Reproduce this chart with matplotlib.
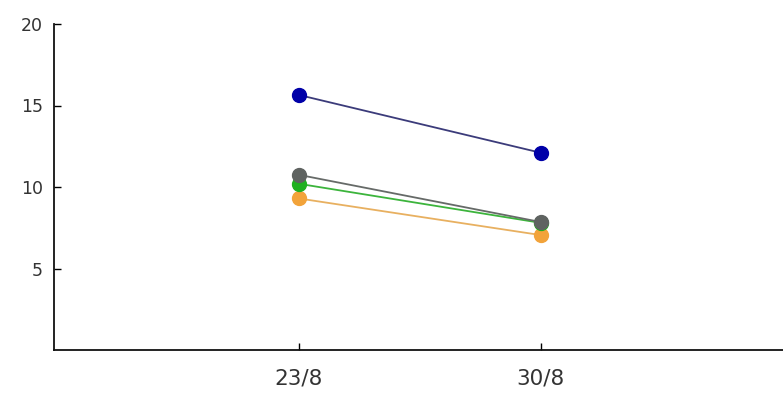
import matplotlib
matplotlib.use("Agg")
import matplotlib.pyplot as plt

# dates on the x axis
dates = ["23/8", "30/8"]

# one series per colour
blue = [15.65, 12.1]
gray = [10.75, 7.85]
green = [10.2, 7.8]
orange = [9.3, 7.05]

series = [
    (orange, "#f2a33a", "#e8b060"),
    (green, "#1fb01f", "#3cb43c"),
    (gray, "#5f6361", "#666a68"),
    (blue, "#0000a8", "#3b3b7a"),
]

fig = plt.figure(figsize=(7.83, 3.94), dpi=100)
ax = fig.add_axes([54 / 783, 44 / 394, 1 - 54 / 783, 326 / 394])

xs = list(range(len(dates)))
for vals, mcol, lcol in series:
    ax.plot(xs, vals, color=lcol, lw=1.3, zorder=2)
    ax.plot(xs, vals, "o", color=mcol, ms=10, zorder=3)

ax.set_xlim(-1.01, 2.0)
ax.set_ylim(0, 20)
ax.set_xticks(xs)
ax.set_xticklabels(dates)
ax.set_yticks([5, 10, 15, 20])

for side in ("top", "right"):
    ax.spines[side].set_visible(False)
for side in ("left", "bottom"):
    ax.spines[side].set_linewidth(1.3)
    ax.spines[side].set_color("#111111")

ax.tick_params(axis="x", direction="in", length=5, width=1, pad=13,
               labelsize=15.5, labelcolor="#333333")
ax.tick_params(axis="y", direction="in", length=5, width=1, pad=8,
               labelsize=12.5, labelcolor="#333333")

fig.savefig("out.png", dpi=100)
